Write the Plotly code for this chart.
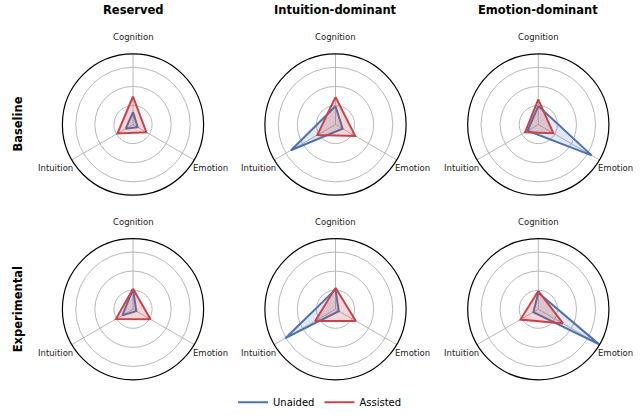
import math
import plotly.graph_objects as go

# ---- data ----
categories = ["Cognition", "Emotion", "Intuition"]
profiles = ["Reserved", "Intuition-dominant", "Emotion-dominant"]
conditions = ["Baseline", "Experimental"]

unaided_baseline = [[0.65, 0.28, 0.44], [0.96, 0.43, 2.69], [0.97, 3.23, 0.65]]
unaided_experimental = [[1.06, 0.20, 0.64], [1.04, 0.20, 3.03], [0.87, 3.68, 0.30]]
assisted_baseline = [[1.47, 0.81, 0.94], [1.44, 1.19, 1.10], [1.32, 0.91, 0.80]]
assisted_experimental = [[1.08, 1.06, 1.03], [1.13, 1.23, 1.23], [0.96, 1.49, 1.08]]

unaided = {"Baseline": unaided_baseline, "Experimental": unaided_experimental}
assisted = {"Baseline": assisted_baseline, "Experimental": assisted_experimental}

# ---- layout ----
W, H = 640, 417
col_cx = [133, 335.5, 538.3]
row_cy = [127, 315.3]
R = 72
label_r = 89
rmax = 3.7

BLUE = "#4c72b0"
RED = "#c9434b"
BLUE_FILL = "rgba(76,114,176,0.16)"
RED_FILL = "rgba(201,67,75,0.22)"
GRID = "#b8b8b8"
FONT = "DejaVu Sans"

fig = go.Figure()
annotations = []
layout_polars = {}

idx = 0
for ri, cond in enumerate(conditions):
    for ci, prof in enumerate(profiles):
        idx += 1
        pname = "polar" if idx == 1 else f"polar{idx}"
        sub = pname
        cx, cy = col_cx[ci], row_cy[ri]
        layout_polars[pname] = dict(
            domain=dict(x=[(cx - R) / W, (cx + R) / W],
                        y=[(H - cy - R) / H, (H - cy + R) / H]),
            bgcolor="white",
            radialaxis=dict(range=[0, rmax], tickvals=[1, 2, 3], showticklabels=False,
                            ticks="", showline=False, gridcolor=GRID, gridwidth=1),
            angularaxis=dict(rotation=90, direction="clockwise", showticklabels=False,
                             ticks="", showline=True, linecolor="black", linewidth=1.2,
                             gridcolor=GRID, gridwidth=1,
                             categoryorder="array", categoryarray=categories),
        )
        for series, color, fillc, name in [(unaided[cond][ci], BLUE, BLUE_FILL, "Unaided"),
                                           (assisted[cond][ci], RED, RED_FILL, "Assisted")]:
            fig.add_trace(go.Scatterpolar(
                r=list(series) + [series[0]],
                theta=categories + [categories[0]],
                mode="lines", fill="toself", fillcolor=fillc,
                line=dict(color=color, width=2),
                subplot=sub, showlegend=False, name=name,
            ))
        # axis category labels
        for k, cat in enumerate(categories):
            ang = math.radians(90 - 120 * k)
            lx = cx + label_r * math.cos(ang)
            ly = cy - label_r * math.sin(ang)
            annotations.append(dict(x=lx / W, y=(H - ly) / H, xref="paper", yref="paper",
                                    text=cat, showarrow=False, xanchor="center",
                                    yanchor="middle", font=dict(size=8.5, color="#222")))

# column titles
for ci, prof in enumerate(profiles):
    annotations.append(dict(x=col_cx[ci] / W, y=(H - 10.5) / H, xref="paper", yref="paper",
                            text=f"<b>{prof}</b>", showarrow=False, xanchor="center",
                            yanchor="middle", font=dict(size=11.5, color="black")))
# row labels
for ri, cond in enumerate(conditions):
    annotations.append(dict(x=18 / W, y=(H - row_cy[ri]) / H, xref="paper", yref="paper",
                            text=f"<b>{cond}</b>", showarrow=False, textangle=-90,
                            xanchor="center", yanchor="middle",
                            font=dict(size=11.5, color="black")))

# legend entries
for name, color in [("Unaided", BLUE), ("Assisted", RED)]:
    fig.add_trace(go.Scatterpolar(r=[None], theta=[None], mode="lines", name=name,
                                  line=dict(color=color, width=2), subplot="polar",
                                  showlegend=True))

fig.update_layout(
    width=W, height=H,
    margin=dict(l=0, r=0, t=0, b=0),
    paper_bgcolor="white",
    font=dict(family=FONT, color="black"),
    annotations=annotations,
    legend=dict(orientation="h", x=0.5, xanchor="center", y=(H - 410) / H,
                yanchor="middle", font=dict(size=10), itemwidth=30,
                bgcolor="rgba(0,0,0,0)"),
    **layout_polars,
)

fig.write_html("out.html", config={"displayModeBar": False},
               post_script="document.body.style.margin='0';document.body.style.padding='0';document.body.style.overflow='hidden';")
